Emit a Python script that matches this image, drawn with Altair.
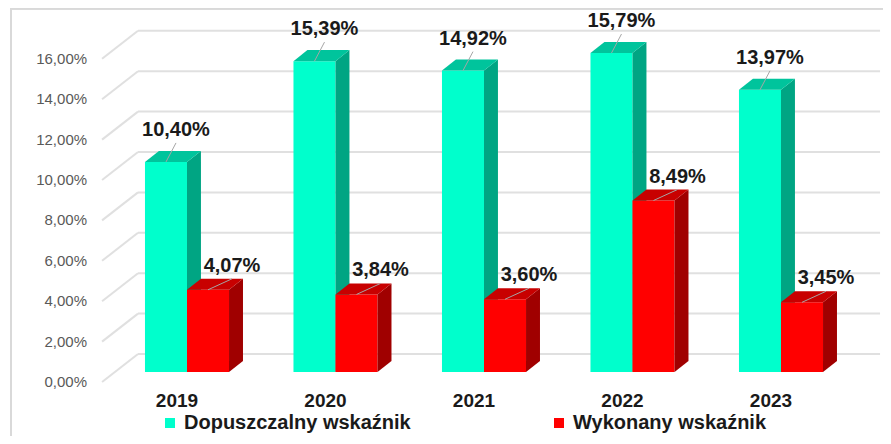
import altair as alt
import pandas as pd

# ---------------- data ----------------
years = ["2019", "2020", "2021", "2022", "2023"]
allowed = [10.40, 15.39, 14.92, 15.79, 13.97]     # Dopuszczalny wskaźnik (%)
actual = [4.07, 3.84, 3.60, 8.49, 3.45]           # Wykonany wskaźnik (%)
series_names = ["Dopuszczalny wskaźnik", "Wykonany wskaźnik"]
y_ticks = [0, 2, 4, 6, 8, 10, 12, 14, 16]

# ---------------- geometry / style ----------------
FONT = "Liberation Sans"
W, H = 875, 428
X_DOMAIN = [-1.2054, 4.6869]      # x in "group" units (group i centred at i)
Y_DOMAIN = [-3.168, 18.02]        # y in percent
BAR_W = 0.283                     # front-face width (group units)
DX, DY = 0.094, 0.545             # bar depth projection (group units, %)
FRONT_Y, BACK_Y = -0.495, 0.891   # floor front / back wall shift (%)
X_FRONT, X_BACK, X_RIGHT = -0.572, -0.330, 4.667
X_TICKLABEL = -0.673
GREEN = ["#00FFCC", "#00A583", "#00C49C"]   # front, side, top
RED = ["#FF0000", "#A00000", "#C80000"]
GRID = "#e0e0e0"

xs = alt.Scale(domain=X_DOMAIN, nice=False, zero=False)
ys = alt.Scale(domain=Y_DOMAIN, nice=False, zero=False)


def pct(v):
    return f"{v:.2f}".replace(".", ",") + "%"


bars, side_rows, top_rows = [], [], []
for i, yr in enumerate(years):
    for s, vals, off in ((series_names[0], allowed, -BAR_W), (series_names[1], actual, 0.0)):
        v = vals[i]
        xl = i + off
        xr = xl + BAR_W
        bid = f"{yr}-{s}"
        bars.append(dict(year=yr, series=s, v=v, xl=xl, xr=xr, xc=xl + BAR_W / 2,
                         base=0.0, label=pct(v), bar=bid))
        side_rows += [dict(series=s, bar=bid, x=xr, top=v, bot=0.0),
                      dict(series=s, bar=bid, x=xr + DX, top=v + DY, bot=DY)]
        top_rows += [dict(series=s, bar=bid, x=xl, top=v, bot=v),
                     dict(series=s, bar=bid, x=xl + DX, top=v + DY, bot=v),
                     dict(series=s, bar=bid, x=xr, top=v + DY, bot=v),
                     dict(series=s, bar=bid, x=xr + DX, top=v + DY, bot=v + DY)]

bars_df = pd.DataFrame(bars)
side_df = pd.DataFrame(side_rows)
top_df = pd.DataFrame(top_rows)
grid_df = pd.DataFrame({"t": y_ticks})
grid_df["gy"] = grid_df["t"] + BACK_Y
grid_df["fy"] = grid_df["t"] + FRONT_Y
grid_df["lab"] = [pct(t) for t in y_ticks]
year_df = pd.DataFrame({"year": years, "pos": list(range(len(years)))})

# ---------------- layers ----------------
back_grid = alt.Chart(grid_df).mark_rule(color=GRID, strokeWidth=2).encode(
    x=alt.X(datum=X_BACK, scale=xs, axis=None), x2=alt.datum(X_RIGHT),
    y=alt.Y("gy:Q", scale=ys, axis=None))
diag_grid = alt.Chart(grid_df).mark_rule(color=GRID, strokeWidth=2).encode(
    x=alt.X(datum=X_FRONT, scale=xs, axis=None), x2=alt.datum(X_BACK),
    y=alt.Y("fy:Q", scale=ys, axis=None), y2="gy:Q")
tick_labels = alt.Chart(grid_df).mark_text(
    align="right", baseline="middle", font=FONT, fontSize=15, color="#595959").encode(
    x=alt.X(datum=X_TICKLABEL, scale=xs, axis=None),
    y=alt.Y("fy:Q", scale=ys, axis=None), text="lab:N")

color_enc = alt.Color("series:N", scale=alt.Scale(domain=series_names, range=[GREEN[0], RED[0]]),
                      legend=alt.Legend(title=None, orient="none", legendX=152, legendY=405,
                                        direction="horizontal", columns=2, symbolType="square",
                                        symbolSize=100, symbolStrokeWidth=0, labelFont=FONT,
                                        labelFontSize=20, labelFontWeight="bold",
                                        labelColor="#1a1a1a", labelLimit=400,
                                        columnPadding=138, labelOffset=4, padding=0))


def bar_layers(name, cols):
    front = alt.Chart(bars_df).transform_filter(alt.datum.series == name).mark_rect().encode(
        x=alt.X("xl:Q", scale=xs, axis=None), x2="xr:Q",
        y=alt.Y("v:Q", scale=ys, axis=None), y2="base:Q", color=color_enc)
    side = alt.Chart(side_df).transform_filter(alt.datum.series == name).mark_area(
        color=cols[1], orient="vertical").encode(
        x=alt.X("x:Q", scale=xs, axis=None), y=alt.Y("top:Q", scale=ys, axis=None),
        y2="bot:Q", detail="bar:N")
    top = alt.Chart(top_df).transform_filter(alt.datum.series == name).mark_area(
        color=cols[2], orient="vertical").encode(
        x=alt.X("x:Q", scale=xs, axis=None), y=alt.Y("top:Q", scale=ys, axis=None),
        y2="bot:Q", detail="bar:N")
    return [front, side, top]


def label_layers(name, ldx, ldy):
    leader = alt.Chart(bars_df).transform_filter(alt.datum.series == name).mark_rule(
        color="#a6a6a6", strokeWidth=1, x2Offset=ldx, y2Offset=ldy + 13).encode(
        x=alt.X("xc:Q", scale=xs, axis=None), x2="xc:Q",
        y=alt.Y("v:Q", scale=ys, axis=None), y2="v:Q")
    text = alt.Chart(bars_df).transform_filter(alt.datum.series == name).mark_text(
        dx=ldx, dy=ldy, align="center", baseline="middle", font=FONT, fontSize=20,
        fontWeight="bold", color="#1a1a1a").encode(
        x=alt.X("xc:Q", scale=xs, axis=None), y=alt.Y("v:Q", scale=ys, axis=None),
        text="label:N")
    return [leader, text]


year_labels = alt.Chart(year_df).mark_text(
    dx=-10, align="center", baseline="middle", font=FONT, fontSize=19, fontWeight="bold",
    color="#1a1a1a").encode(x=alt.X("pos:Q", scale=xs, axis=None), y=alt.value(393),
                            text="year:N")

border_left = alt.Chart(year_df).mark_rule(color="#d9d9d9", strokeWidth=1.5).encode(
    x=alt.value(3), y=alt.value(0), y2=alt.value(H))
border_top = alt.Chart(year_df).mark_rule(color="#d9d9d9", strokeWidth=1.5).encode(
    x=alt.value(3), x2=alt.value(W), y=alt.value(0.75))

layers = ([back_grid, diag_grid, tick_labels]
          + bar_layers(series_names[0], GREEN)
          + bar_layers(series_names[1], RED)
          + label_layers(series_names[0], 10, -32)
          + label_layers(series_names[1], 24, -24)
          + [year_labels, border_left, border_top])

chart = alt.layer(*layers).properties(
    width=W, height=H, autosize=alt.AutoSizeParams(type="none"), padding=0,
    background="white").configure_view(stroke=None)

chart.save("out.html", embed_options={"renderer": "svg", "actions": False})
